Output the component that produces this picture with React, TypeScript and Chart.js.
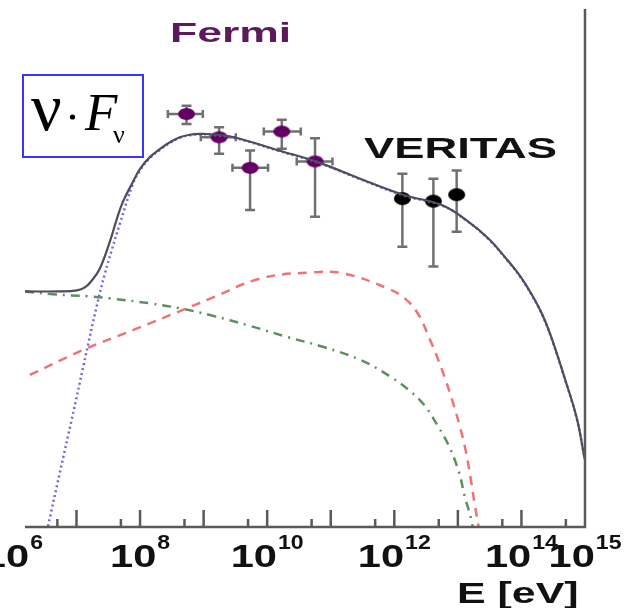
import React, { useEffect, useRef } from "react";
import { Chart, registerables } from "chart.js";

Chart.register(...registerables);

// Energy E [eV] given as log10(E); flux nuFnu (arbitrary units) given as log10
const modelLogE = [6.189, 6.739, 7.006, 7.132, 7.242, 7.368, 7.525, 7.635, 7.73, 7.887, 7.997, 8.154, 8.311, 8.469, 8.626, 8.783, 8.94, 9.113, 9.475, 10.167, 10.796, 11.472, 12.148, 12.745, 13.107, 13.484, 13.799, 13.972, 14.16, 14.333, 14.475, 14.679, 14.868, 14.994];
const modelLogF = [-10.726, -10.726, -10.716, -10.687, -10.62, -10.505, -10.246, -10.025, -9.862, -9.67, -9.545, -9.43, -9.353, -9.286, -9.238, -9.214, -9.206, -9.209, -9.238, -9.363, -9.478, -9.641, -9.795, -9.891, -10.025, -10.217, -10.438, -10.572, -10.754, -10.956, -11.177, -11.56, -11.944, -12.338];

const syncLogE = [6.503, 6.55, 6.739, 6.928, 7.116, 7.321, 7.447, 7.557, 7.682, 7.887, 7.997, 8.154, 8.311, 8.469, 8.626, 8.783, 8.94, 9.113, 9.475, 10.167, 10.796, 11.472, 12.148, 12.745, 13.107, 13.484, 13.799, 13.972, 14.16, 14.333, 14.475, 14.679, 14.868, 14.994];
const syncLogF = [-13.134, -13.0, -12.472, -11.954, -11.426, -10.86, -10.553, -10.322, -10.073, -9.69, -9.56, -9.44, -9.36, -9.292, -9.243, -9.218, -9.21, -9.213, -9.242, -9.367, -9.482, -9.645, -9.8, -9.896, -10.03, -10.222, -10.443, -10.577, -10.759, -10.961, -11.182, -11.565, -11.949, -12.343];

const redLogE = [6.267, 7.101, 7.887, 8.736, 9.113, 9.899, 10.686, 11.204, 11.896, 12.164, 12.368, 12.557, 12.745, 12.903, 13.028, 13.123, 13.201, 13.264, 13.327, 13.358];
const redLogF = [-11.532, -11.292, -11.1, -10.889, -10.793, -10.601, -10.543, -10.553, -10.697, -10.793, -10.937, -11.186, -11.474, -11.762, -12.021, -12.261, -12.53, -12.779, -13.0, -13.125];

const greenLogE = [6.189, 6.629, 7.211, 7.525, 8.154, 8.626, 9.113, 9.742, 10.324, 10.89, 11.472, 11.943, 12.242, 12.478, 12.682, 12.855, 13.013, 13.107, 13.217, 13.248];
const greenLogF = [-10.726, -10.754, -10.774, -10.793, -10.841, -10.889, -10.956, -11.061, -11.167, -11.263, -11.388, -11.551, -11.685, -11.829, -12.021, -12.213, -12.463, -12.702, -12.942, -13.077];

const fermiLogE = [8.731, 9.244, 9.731, 10.23, 10.753];
const fermiLogELow = [8.437, 8.956, 9.454, 9.947, 10.465];
const fermiLogEHigh = [8.987, 9.506, 10.014, 10.528, 11.027];
const fermiLogF = [-9.014, -9.238, -9.533, -9.183, -9.471];
const fermiLogFLow = [-9.11, -9.398, -9.941, -9.35, -10.006];
const fermiLogFHigh = [-8.934, -9.142, -9.366, -9.068, -9.248];

const veritasLogE = [12.127, 12.615, 12.981];
const veritasLogF = [-9.83, -9.855, -9.792];
const veritasLogFLow = [-10.294, -10.486, -10.15];
const veritasLogFHigh = [-9.59, -9.638, -9.558];

const majorTicks = [1e7, 1e8, 1e9, 1e10, 1e11, 1e12, 1e13, 1e14];
const minorTicks = [5e6, 5e7, 5e8, 5e9, 5e10, 5e11, 5e12, 5e13, 5e14];
const labelExponents = ["6", "8", "10", "12", "14", "15"];

const pts = (xs: number[], ys: number[]) => xs.map((x, i) => ({ x: Math.pow(10, x), y: Math.pow(10, ys[i]) }));

function ellipseMarker(color: string, w: number, h: number) {
  const c = document.createElement("canvas");
  c.width = w + 2;
  c.height = h + 2;
  const g = c.getContext("2d")!;
  g.fillStyle = color;
  g.beginPath();
  g.ellipse((w + 2) / 2, (h + 2) / 2, w / 2, h / 2, 0, 0, Math.PI * 2);
  g.fill();
  return c;
}

function stretchText(ctx: CanvasRenderingContext2D, text: string, x: number, y: number, sx: number) {
  ctx.save();
  ctx.translate(x, y);
  ctx.scale(sx, 1);
  ctx.fillText(text, 0, 0);
  ctx.restore();
}

const decorPlugin = {
  id: "decor",
  beforeDatasetDraw(chart: any, args: any) {
    if (args.index !== 4 && args.index !== 5) return;
    const xs = chart.scales.x;
    const ys = chart.scales.y;
    const ctx = chart.ctx as CanvasRenderingContext2D;
    ctx.save();
    ctx.strokeStyle = "#707070";
    ctx.lineWidth = 2.5;
    const cap = 5;
    if (args.index === 4) {
      fermiLogE.forEach((e, i) => {
        const px = xs.getPixelForValue(Math.pow(10, e));
        const py = ys.getPixelForValue(Math.pow(10, fermiLogF[i]));
        const yl = ys.getPixelForValue(Math.pow(10, fermiLogFLow[i]));
        const yh = ys.getPixelForValue(Math.pow(10, fermiLogFHigh[i]));
        const xl = xs.getPixelForValue(Math.pow(10, fermiLogELow[i]));
        const xh = xs.getPixelForValue(Math.pow(10, fermiLogEHigh[i]));
        ctx.beginPath();
        ctx.moveTo(px, yl); ctx.lineTo(px, yh);
        ctx.moveTo(px - cap, yl); ctx.lineTo(px + cap, yl);
        ctx.moveTo(px - cap, yh); ctx.lineTo(px + cap, yh);
        ctx.moveTo(xl, py); ctx.lineTo(xh, py);
        ctx.moveTo(xl, py - 4); ctx.lineTo(xl, py + 4);
        ctx.moveTo(xh, py - 4); ctx.lineTo(xh, py + 4);
        ctx.stroke();
      });
    } else {
      veritasLogE.forEach((e, i) => {
        const px = xs.getPixelForValue(Math.pow(10, e));
        const yl = ys.getPixelForValue(Math.pow(10, veritasLogFLow[i]));
        const yh = ys.getPixelForValue(Math.pow(10, veritasLogFHigh[i]));
        ctx.beginPath();
        ctx.moveTo(px, yl); ctx.lineTo(px, yh);
        ctx.moveTo(px - cap, yl); ctx.lineTo(px + cap, yl);
        ctx.moveTo(px - cap, yh); ctx.lineTo(px + cap, yh);
        ctx.stroke();
      });
    }
    ctx.restore();
  },
  afterDraw(chart: any) {
    const ctx = chart.ctx as CanvasRenderingContext2D;
    const xs = chart.scales.x;
    const area = chart.chartArea;
    ctx.save();
    // frame: bottom axis and right border
    ctx.strokeStyle = "#5a5a5a";
    ctx.lineWidth = 2.5;
    ctx.beginPath();
    ctx.moveTo(area.left, area.bottom);
    ctx.lineTo(area.right, area.bottom);
    ctx.lineTo(area.right, area.top);
    ctx.stroke();
    // inward ticks
    ctx.beginPath();
    majorTicks.forEach((v) => {
      const px = xs.getPixelForValue(v);
      ctx.moveTo(px, area.bottom);
      ctx.lineTo(px, area.bottom - 17);
    });
    minorTicks.forEach((v) => {
      const px = xs.getPixelForValue(v);
      ctx.moveTo(px, area.bottom);
      ctx.lineTo(px, area.bottom - 8);
    });
    ctx.stroke();

    // tick labels 10^n
    ctx.fillStyle = "#111";
    ctx.textBaseline = "alphabetic";
    ctx.textAlign = "left";
    labelExponents.forEach((ex) => {
      const px = xs.getPixelForValue(Math.pow(10, Number(ex)));
      ctx.font = "bold 32px 'Liberation Sans', Arial, sans-serif";
      const wBase = ctx.measureText("10").width * 1.3;
      ctx.font = "bold 21px 'Liberation Sans', Arial, sans-serif";
      const wSup = ctx.measureText(ex).width * 1.1;
      const total = wBase + 1 + wSup;
      const x0 = px - total / 2;
      ctx.font = "bold 32px 'Liberation Sans', Arial, sans-serif";
      stretchText(ctx, "10", x0, 567, 1.3);
      ctx.font = "bold 21px 'Liberation Sans', Arial, sans-serif";
      stretchText(ctx, ex, x0 + wBase + 1, 549, 1.1);
    });

    // axis title
    ctx.font = "bold 30px 'Liberation Sans', Arial, sans-serif";
    stretchText(ctx, "E [eV]", 457, 603, 1.43);

    // annotations
    ctx.fillStyle = "#5c1a5c";
    ctx.font = "bold 28px 'Liberation Sans', Arial, sans-serif";
    stretchText(ctx, "Fermi", 170, 42, 1.59);
    ctx.fillStyle = "#111";
    ctx.font = "bold 30px 'Liberation Sans', Arial, sans-serif";
    stretchText(ctx, "VERITAS", 364, 158, 1.51);

    // nu F_nu box
    ctx.strokeStyle = "#3535ff";
    ctx.lineWidth = 2;
    ctx.strokeRect(23, 75, 120, 82);
    ctx.fillStyle = "#000";
    ctx.font = "68px 'Liberation Serif', 'Times New Roman', serif";
    ctx.fillText("\u03bd", 31, 130);
    ctx.beginPath();
    ctx.arc(72.5, 117, 2.6, 0, Math.PI * 2);
    ctx.fill();
    ctx.font = "italic 53px 'Liberation Serif', 'Times New Roman', serif";
    ctx.fillText("F", 85, 130);
    ctx.font = "26px 'Liberation Serif', 'Times New Roman', serif";
    ctx.fillText("\u03bd", 113, 143);
    ctx.restore();
  },
};

export default function App() {
  const ref = useRef<HTMLCanvasElement | null>(null);
  useEffect(() => {
    if (!ref.current) return;
    const fermiMarker = ellipseMarker("#640064", 17, 12);
    const veritasMarker = ellipseMarker("#000000", 17, 13);
    const chart = new Chart(ref.current, {
      type: "scatter",
      data: {
        datasets: [
          {
            label: "Total",
            data: pts(modelLogE, modelLogF),
            showLine: true,
            borderColor: "#4d4d5c",
            borderWidth: 2.2,
            pointRadius: 0,
            tension: 0.4,
          },
          {
            label: "Synchrotron",
            data: pts(syncLogE, syncLogF),
            showLine: true,
            borderColor: "#6a6ad8",
            borderWidth: 2.5,
            borderDash: [2, 3],
            pointRadius: 0,
            tension: 0.4,
          },
          {
            label: "IC",
            data: pts(redLogE, redLogF),
            showLine: true,
            borderColor: "#f07272",
            borderWidth: 2.5,
            borderDash: [9, 7],
            pointRadius: 0,
            tension: 0.4,
          },
          {
            label: "EC",
            data: pts(greenLogE, greenLogF),
            showLine: true,
            borderColor: "#5f8f60",
            borderWidth: 2.5,
            borderDash: [9, 6, 2, 6],
            pointRadius: 0,
            tension: 0.4,
          },
          {
            label: "Fermi",
            data: pts(fermiLogE, fermiLogF),
            pointStyle: fermiMarker as any,
            pointRadius: 8,
            showLine: false,
          },
          {
            label: "VERITAS",
            data: pts(veritasLogE, veritasLogF),
            pointStyle: veritasMarker as any,
            pointRadius: 8,
            showLine: false,
          },
        ],
      },
      options: {
        responsive: false,
        maintainAspectRatio: false,
        animation: false,
        layout: { padding: { left: 25, right: 49, top: 6, bottom: 81 } },
        plugins: { legend: { display: false }, tooltip: { enabled: false } },
        scales: {
          x: { type: "logarithmic", min: Math.pow(10, 6.19), max: 1e15, display: false },
          y: { type: "logarithmic", min: 1e-13, max: 1e-8, display: false },
        },
      },
      plugins: [decorPlugin],
    } as any);
    return () => chart.destroy();
  }, []);
  return (
    <div style={{ position: "fixed", left: 0, top: 0, width: 634, height: 608, background: "#fff" }}>
      <canvas ref={ref} width={634} height={608} style={{ display: "block" }} />
    </div>
  );
}
